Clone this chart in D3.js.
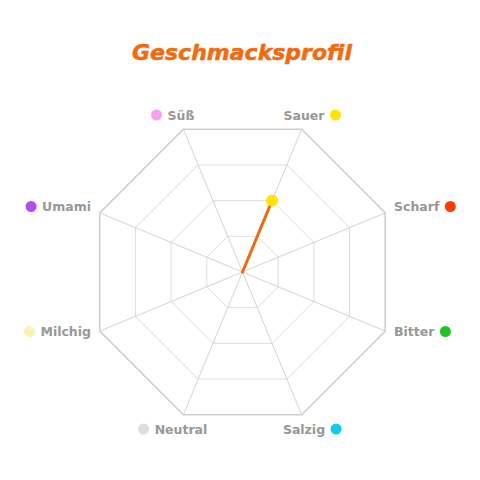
<!DOCTYPE html>
<html>
<head>
<meta charset="utf-8">
<script src="https://cdn.jsdelivr.net/npm/d3@7"></script>
<style>
  html, body { margin: 0; padding: 0; background: #fff; }
  svg { display: block; }
</style>
</head>
<body>
<svg id="chart" width="480" height="480"></svg>
<script>
// ---- data ----
const categories = ["Sauer", "Scharf", "Bitter", "Salzig", "Neutral", "Milchig", "Umami", "Süß"];
const categoryColors = ["#ffe500", "#ff3b00", "#1fc41f", "#14c8f4", "#dedede", "#fbf1b0", "#b34cf2", "#f6a0f2"];
const values = [50, 0, 0, 0, 0, 0, 0, 0];
const tickValues = [25, 50, 75, 100];
const maxValue = 100;
const title = "Geschmacksprofil";

// ---- layout ----
const svg = d3.select("#chart");
const cx = 242.5, cy = 272, R = 154.5;
const n = categories.length;
const angle = i => (i + 0.5) * 2 * Math.PI / n; // clockwise from top
const r = d3.scaleLinear().domain([0, maxValue]).range([0, R]);
const pt = (i, v) => [cx + r(v) * Math.sin(angle(i)), cy - r(v) * Math.cos(angle(i))];

// title
svg.append("text")
  .attr("x", 242).attr("y", 60)
  .attr("text-anchor", "middle")
  .style("font-family", "'DejaVu Sans', sans-serif")
  .style("font-weight", "bold")
  .style("font-style", "italic")
  .style("font-size", "22px")
  .style("fill", "#f46a0c")
  .style("stroke", "#f46a0c")
  .style("stroke-width", 0.5)
  .text(title);

// grid rings
const grid = svg.append("g");
tickValues.forEach(t => {
  const pts = d3.range(n).map(i => pt(i, t));
  grid.append("path")
    .attr("d", d3.line()(pts) + "Z")
    .attr("fill", "none")
    .attr("stroke", t === maxValue ? "#cfcfcf" : "#dedede")
    .attr("stroke-width", t === maxValue ? 1.6 : 1);
});
// spokes
d3.range(n).forEach(i => {
  const [x, y] = pt(i, maxValue);
  grid.append("line")
    .attr("x1", cx).attr("y1", cy).attr("x2", x).attr("y2", y)
    .attr("stroke", "#d3d3d3").attr("stroke-width", 1);
});

// data polygon
const dataPts = values.map((v, i) => pt(i, v));
svg.append("path")
  .attr("d", d3.line()(dataPts) + "Z")
  .attr("fill", "none")
  .attr("stroke", "#ee6a10")
  .attr("stroke-width", 3)
  .attr("stroke-linejoin", "round");

// data points (non-zero)
values.forEach((v, i) => {
  if (v > 0) {
    const [x, y] = pt(i, v);
    svg.append("circle").attr("cx", x).attr("cy", y).attr("r", 6)
      .attr("fill", categoryColors[i]);
  }
});

// labels with colored dots
const labels = svg.append("g");
categories.forEach((name, i) => {
  const a = angle(i), s = Math.sin(a), c = Math.cos(a);
  let x, y, anchor;
  if (Math.abs(s) > 0.8) {
    x = cx + Math.sign(s) * 151.5;
    y = cy - Math.sign(c) * 62.5 - 3;
    anchor = s > 0 ? "start" : "end";
  } else {
    x = cx + Math.sign(s) * 61.5;
    y = cy - Math.sign(c) * 157;
    anchor = "middle";
  }
  const t = labels.append("text")
    .attr("x", x).attr("y", y)
    .attr("dy", "0.36em")
    .attr("text-anchor", anchor)
    .style("font-family", "'DejaVu Sans', sans-serif")
    .style("font-weight", "bold")
    .style("font-size", "12.5px")
    .style("fill", "#979797")
    .text(name);
  const w = t.node().getComputedTextLength();
  let left, right;
  if (anchor === "start") { left = x; right = x + w; }
  else if (anchor === "end") { left = x - w; right = x; }
  else { left = x - w / 2; right = x + w / 2; }
  const dx = s > 0 ? right + 11 : left - 11;
  labels.append("circle")
    .attr("cx", dx).attr("cy", y)
    .attr("r", 5.5)
    .attr("fill", categoryColors[i]);
});
</script>
</body>
</html>
